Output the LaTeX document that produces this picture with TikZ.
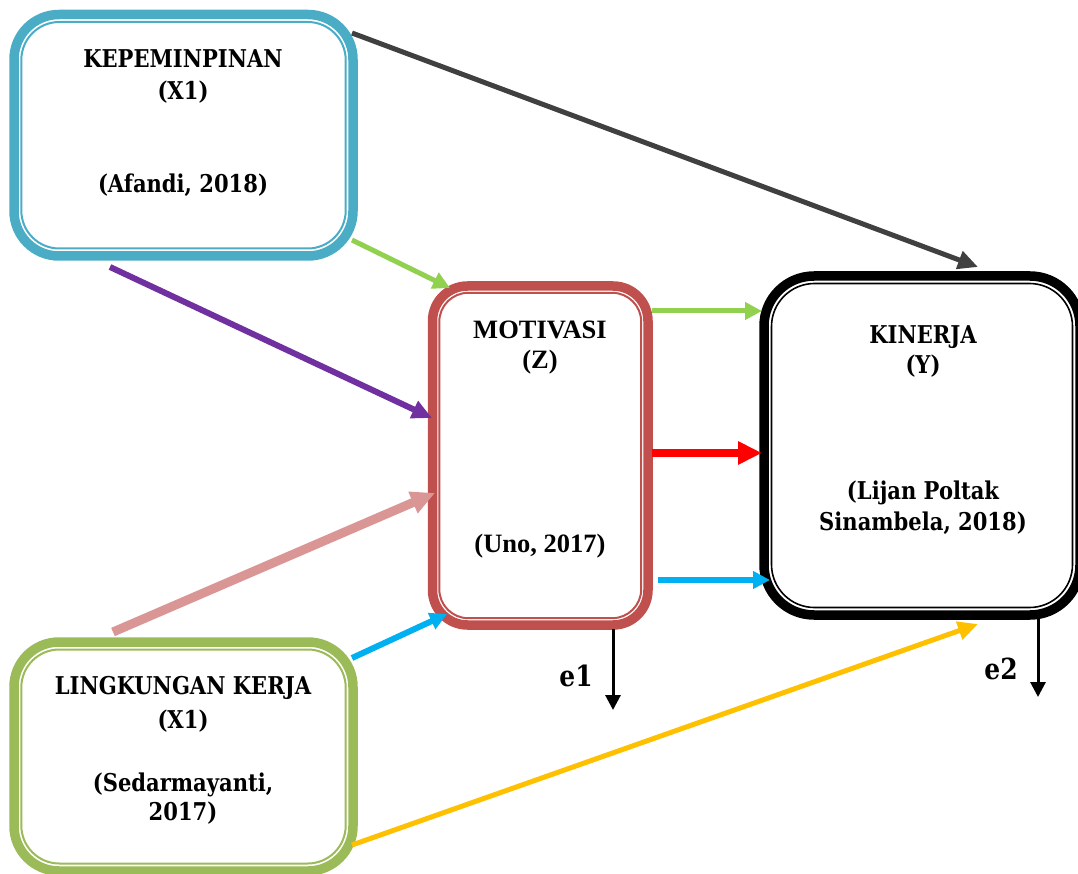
\documentclass[tikz,border=0pt]{standalone}
\usepackage{fontspec}
\usetikzlibrary{arrows.meta}
\newfontfamily\cambfont[FakeStretch=0.86]{DejaVu Serif}
\newfontfamily\timesfont{Liberation Serif}

\definecolor{kblue}{HTML}{4BACC6}
\definecolor{kred}{HTML}{C0504D}
\definecolor{kgreen}{HTML}{9BBB59}
\definecolor{agray}{HTML}{404040}
\definecolor{agreen}{HTML}{92D050}
\definecolor{apurple}{HTML}{7030A0}
\definecolor{apink}{HTML}{D99694}
\definecolor{acyan}{HTML}{00B0F0}
\definecolor{ared}{HTML}{FF0000}
\definecolor{ayellow}{HTML}{FFC000}

\tikzset{
  varbox/.style={draw, fill=white, line width=9.5pt, inner sep=0pt, outer sep=0pt},
  innerline/.style={line width=2pt},
  lbl/.style={font=\cambfont\bfseries\fontsize{24.5}{29}\selectfont, anchor=base, inner sep=0pt},
  elbl/.style={font=\cambfont\bfseries\fontsize{29}{33}\selectfont, anchor=base, inner sep=0pt},
  tlbl/.style={font=\timesfont\bfseries\fontsize{26.5}{30}\selectfont, anchor=base, inner sep=0pt},
  link/.style={line width=#1},
  tipS/.style={-{Triangle[length=17pt,width=17pt]}},
  tipM/.style={-{Triangle[length=20pt,width=18pt]}},
  tipL/.style={-{Triangle[length=24pt,width=22pt]}},
  tipE/.style={-{Triangle[length=15pt,width=15pt]}},
}

\begin{document}
\begin{tikzpicture}[x=1pt,y=-1pt]
\useasboundingbox (0,0) rectangle (1078,874);

% variable boxes
\node[varbox, draw=kblue, rounded corners=45pt, minimum width=339pt, minimum height=241.5pt] (x1) at (183.5,135.25) {};
\draw[innerline, kblue, rounded corners=38pt] ([shift={(7.3,7.5)}]x1.north west) rectangle ([shift={(-7.3,-7.5)}]x1.south east);

\node[varbox, draw=kred, rounded corners=35pt, minimum width=215.5pt, minimum height=339pt] (mot) at (540.25,455.5) {};
\draw[innerline, kred, rounded corners=29pt] ([shift={(6.8,6.8)}]mot.north west) rectangle ([shift={(-6.8,-6.8)}]mot.south east);

\node[varbox, draw=black, rounded corners=50pt, minimum width=316pt, minimum height=339pt] (kin) at (922,445.5) {};
\draw[innerline, black, line width=1.6pt, rounded corners=43pt] ([shift={(7.5,7.5)}]kin.north west) rectangle ([shift={(-7.5,-7.5)}]kin.south east);

\node[varbox, draw=kgreen, rounded corners=45pt, minimum width=339pt, minimum height=229pt] (x2) at (183.5,756.5) {};
\draw[innerline, kgreen, rounded corners=38pt] ([shift={(7.3,7.5)}]x2.north west) rectangle ([shift={(-7.3,-7.5)}]x2.south east);

% box texts
\node[lbl] (x1a) at (183,68) {KEPEMINPINAN};
\node[lbl] (x1b) at (183,100) {(X1)};
\node[lbl] (x1c) at (183,193) {(Afandi, 2018)};

\node[tlbl] (mota) at (540,338) {MOTIVASI};
\node[tlbl] (motb) at (540,368) {(Z)};
\node[tlbl] (motc) at (540,552) {(Uno, 2017)};

\node[lbl] (kina) at (923,343) {KINERJA};
\node[lbl] (kinb) at (923,373) {(Y)};
\node[lbl] (kinc) at (923,499) {(Lijan Poltak};
\node[lbl] (kind) at (923,530) {Sinambela, 2018)};

\node[lbl] (x2a) at (183,694) {LINGKUNGAN KERJA};
\node[lbl] (x2b) at (183,728) {(X1)};
\node[lbl] (x2c) at (183,791) {(Sedarmayanti,};
\node[lbl] (x2d) at (183,820) {2017)};

\node[elbl] (e1) at (576,686) {e1};
\node[elbl] (e2) at (1001,679) {e2};

% connector end points
\coordinate (gS) at (352,33);   \coordinate (gE) at (978,267);
\coordinate (g1S) at (352,240); \coordinate (g1E) at (450,288);
\coordinate (g2S) at (652,311); \coordinate (g2E) at (762,311);
\coordinate (pS) at (110,267);  \coordinate (pE) at (432,418);
\coordinate (kS) at (113,632);  \coordinate (kE) at (435,493);
\coordinate (c1S) at (352,658); \coordinate (c1E) at (447,614);
\coordinate (rS) at (652,453);  \coordinate (rE) at (762,453);
\coordinate (c2S) at (658,580); \coordinate (c2E) at (770,580);
\coordinate (yS) at (352,845);  \coordinate (yE) at (978,624);
\coordinate (e1S) at (613,629); \coordinate (e1E) at (613,710);
\coordinate (e2S) at (1038,619); \coordinate (e2E) at (1038,697);

% connectors
\draw[link=5pt, agray, tipM] (gS) -- (gE);
\draw[link=5pt, agreen, tipS] (g1S) -- (g1E);
\draw[link=5pt, agreen, tipS] (g2S) -- (g2E);
\draw[link=6pt, apurple, tipM] (pS) -- (pE);
\draw[link=9pt, apink, tipL] (kS) -- (kE);
\draw[link=6pt, acyan, tipS] (c1S) -- (c1E);
\draw[link=8pt, ared, tipL] (rS) -- (rE);
\draw[link=6pt, acyan, tipS] (c2S) -- (c2E);
\draw[link=5pt, ayellow, tipM] (yS) -- (yE);
\draw[link=3pt, black, tipE] (e1S) -- (e1E);
\draw[link=3pt, black, tipE] (e2S) -- (e2E);
\end{tikzpicture}
\end{document}
